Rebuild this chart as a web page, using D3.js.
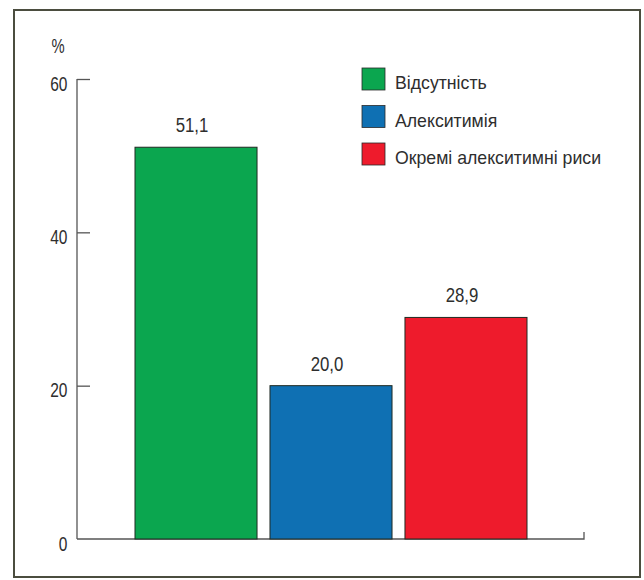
<!DOCTYPE html>
<html>
<head>
<meta charset="utf-8">
<script src="https://cdn.jsdelivr.net/npm/d3@7"></script>
<style>
  html, body { margin: 0; padding: 0; background: #ffffff; }
  svg { display: block; }
  text { font-family: "Liberation Sans", Arial, sans-serif; fill: #2e2e2e; }
</style>
</head>
<body>
<script>
// Prevalence of alexithymia (%)
const categories = ["Відсутність", "Алекситимія", "Окремі алекситимні риси"];
const values = [51.1, 20.0, 28.9];
const valueLabels = ["51,1", "20,0", "28,9"];
const colors = ["#0ba64f", "#0f70b3", "#ee1b2c"];
const yTicks = [0, 20, 40, 60];

const W = 644, H = 580;
const svg = d3.select("body").append("svg").attr("width", W).attr("height", H);

// outer frame
svg.append("rect")
  .attr("x", 14).attr("y", 10).attr("width", 626).attr("height", 567)
  .attr("fill", "#fff").attr("stroke", "#4b4d3f").attr("stroke-width", 2);

const x0 = 77, x1 = 584, yBase = 539, yTop = 79;
const y = d3.scaleLinear().domain([0, 60]).range([yBase, yTop]);
const x = d3.scaleBand().domain(categories).range([135, 527]).paddingInner(0.096).paddingOuter(0);

// condensed numeric text: a glyph run squeezed horizontally around its anchor
function narrowText(sel, px, py, str, size, sx, anchor) {
  sel.append("g")
    .attr("transform", `translate(${px},${py}) scale(${sx},1)`)
    .append("text")
    .attr("text-anchor", anchor)
    .attr("font-size", size)
    .text(str);
}

// y axis ticks
const yAxis = d3.axisRight(y).tickValues(yTicks).tickSize(13).tickFormat("");
const gy = svg.append("g").attr("transform", `translate(${x0},0)`).call(yAxis);
gy.select(".domain").remove();
gy.selectAll(".tick line").attr("stroke", "#555").attr("stroke-width", 1.3);
gy.selectAll(".tick").filter(d => d === 0).select("line").remove();
svg.append("line").attr("x1", x0).attr("x2", x0).attr("y1", y(60)).attr("y2", yBase)
  .attr("stroke", "#555").attr("stroke-width", 1.3);

// tick labels
yTicks.forEach(t => narrowText(svg, 67.5, y(t) + 11.5, String(t), 21, 0.74, "end"));

narrowText(svg, 51.5, 52.5, "%", 20, 0.74, "start");

// x axis baseline with end tick
svg.append("path")
  .attr("d", `M${x0},${yBase}H${x1}V${yBase - 7}`)
  .attr("fill", "none").attr("stroke", "#555").attr("stroke-width", 1.3);

// bars
svg.selectAll("rect.bar").data(values).enter().append("rect")
  .attr("class", "bar")
  .attr("x", (d, i) => x(categories[i]))
  .attr("width", x.bandwidth())
  .attr("y", d => y(d))
  .attr("height", d => yBase - y(d))
  .attr("fill", (d, i) => colors[i])
  .attr("stroke", "#1f2a22").attr("stroke-width", 1);

// value labels
values.forEach((v, i) => {
  narrowText(svg, x(categories[i]) + x.bandwidth() / 2 - 4, y(v) - 15, valueLabels[i], 21, 0.8, "middle");
});

// legend
const lg = svg.append("g").attr("transform", "translate(362,68)");
const item = lg.selectAll("g").data(categories).enter().append("g")
  .attr("transform", (d, i) => `translate(0,${i * 37.5})`);
item.append("rect").attr("width", 23).attr("height", 22)
  .attr("fill", (d, i) => colors[i]).attr("stroke", "#2a2a2a").attr("stroke-width", 0.8);
item.append("text").attr("x", 33).attr("y", 21).attr("font-size", 17.7).text(d => d);
</script>
</body>
</html>
